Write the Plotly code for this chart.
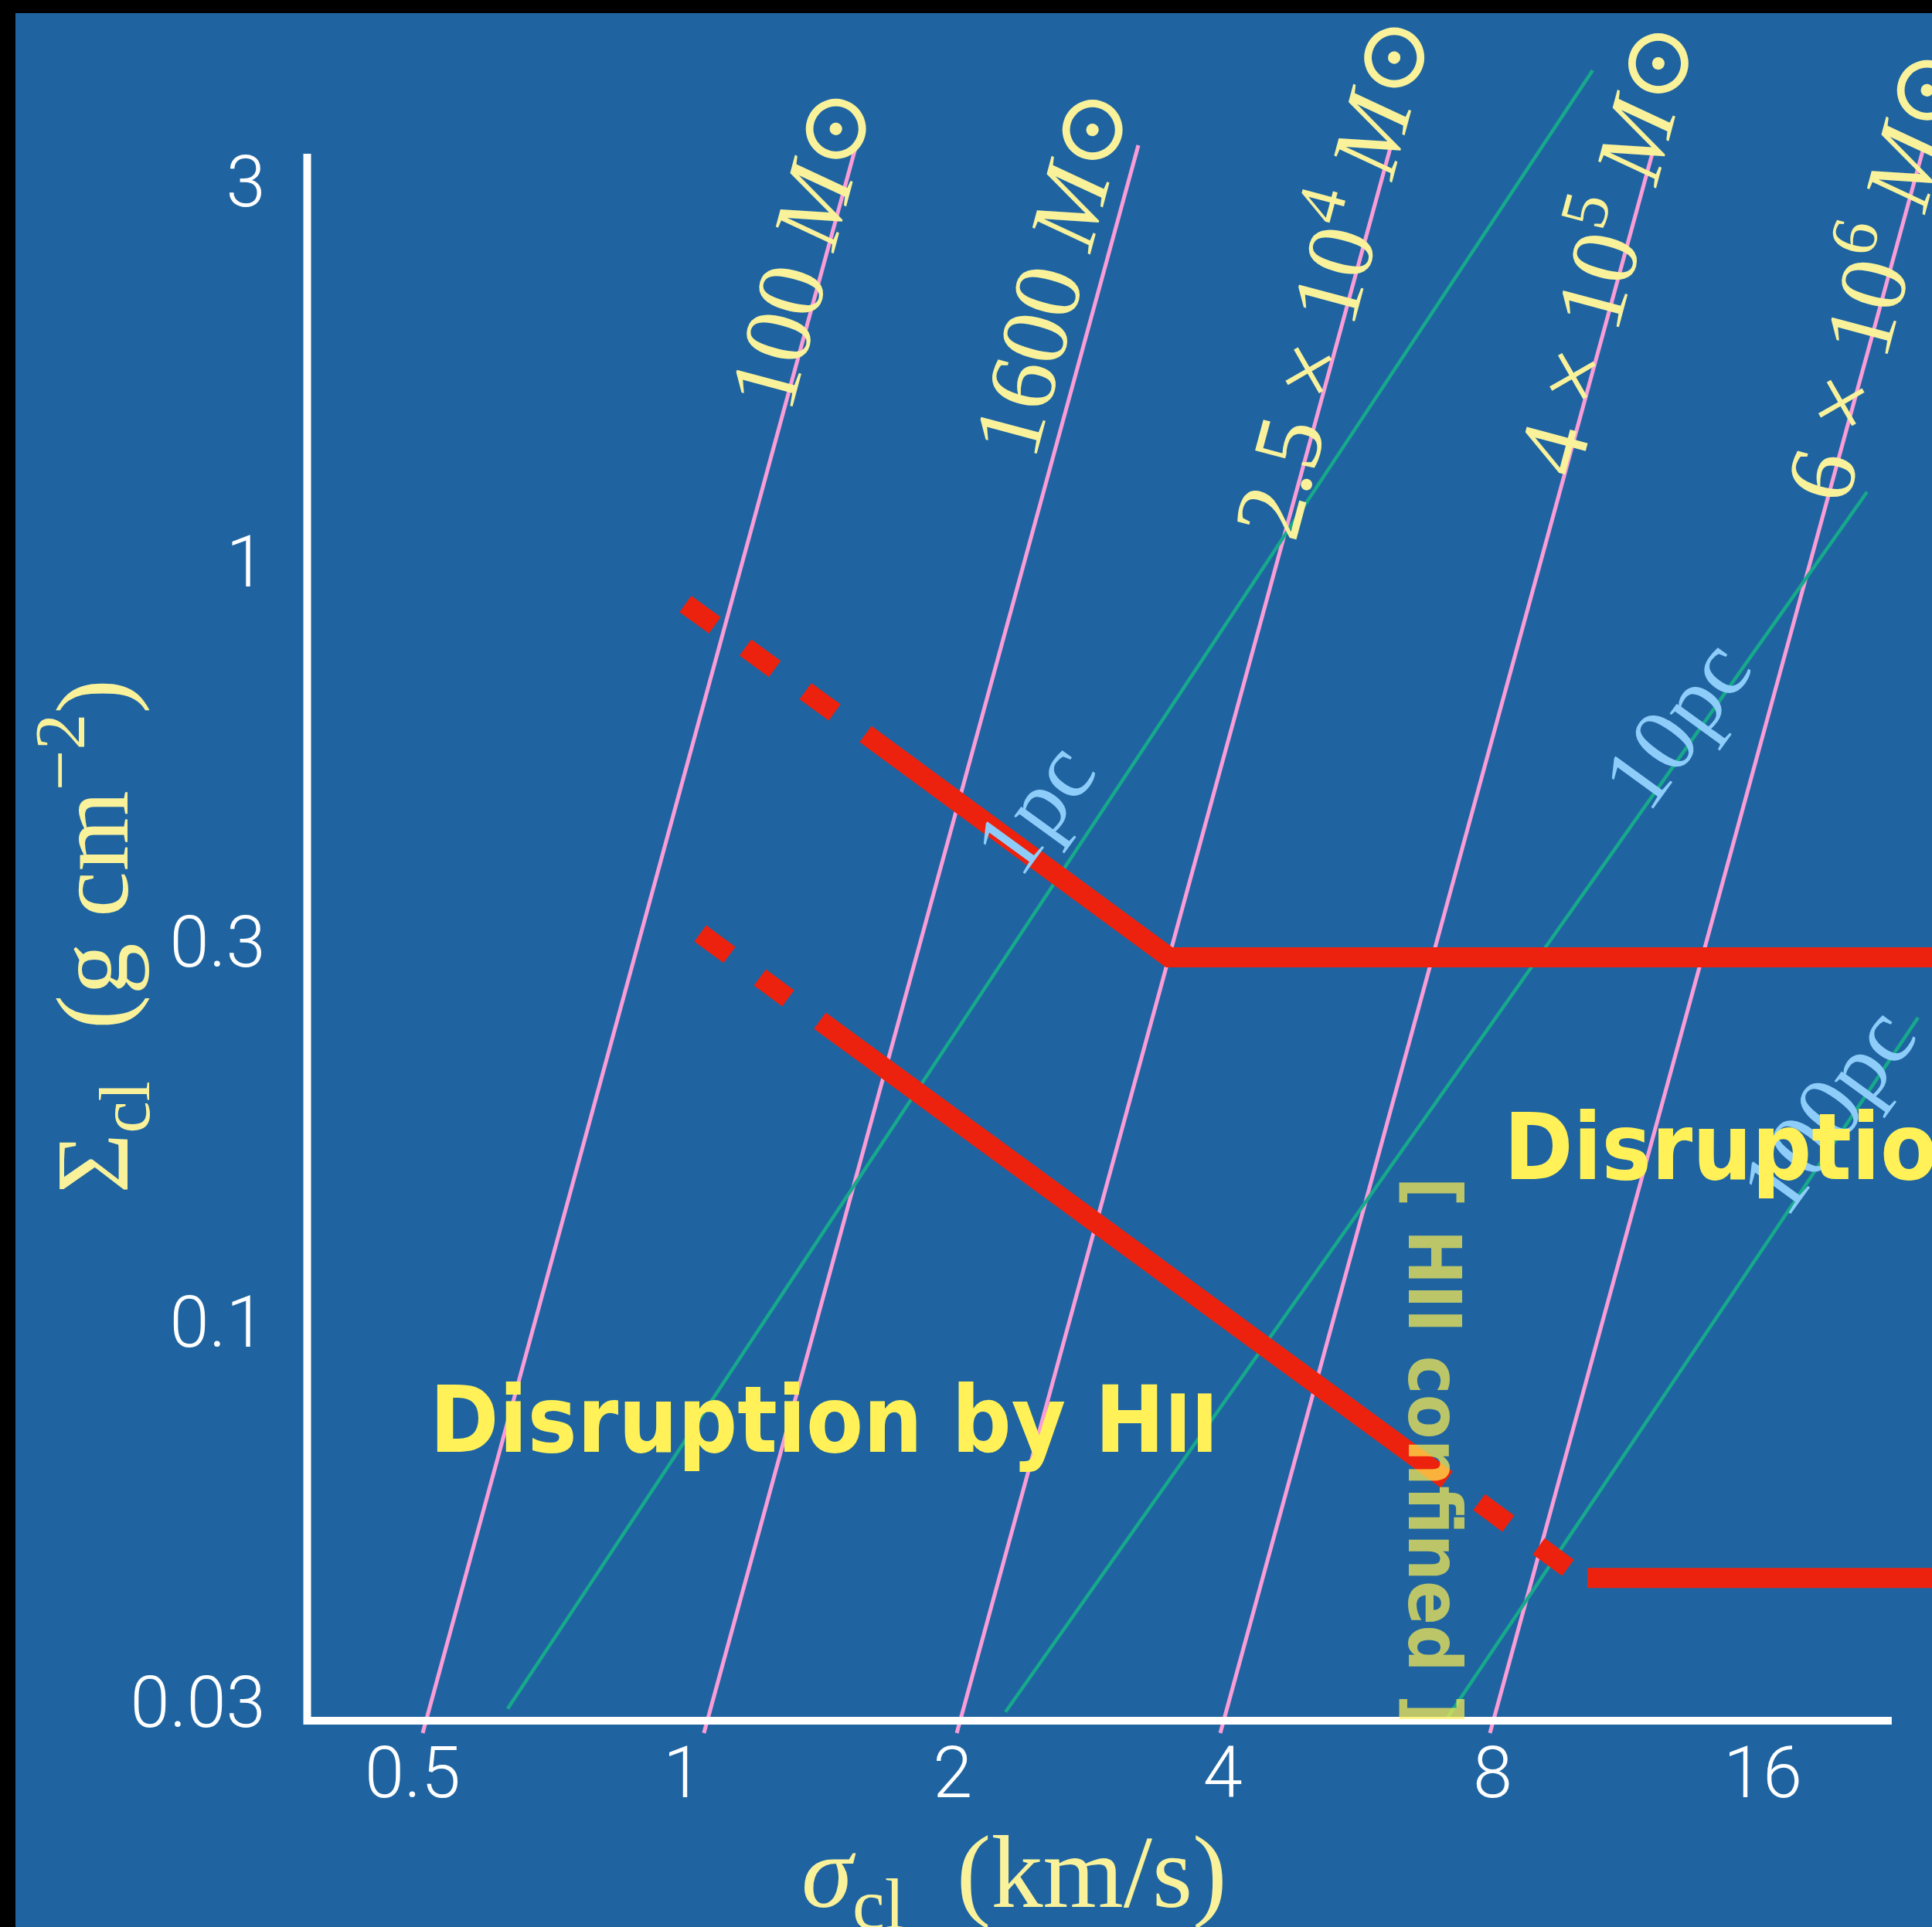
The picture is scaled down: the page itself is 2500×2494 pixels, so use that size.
import numpy as np
import plotly.graph_objects as go

# ---------------- data (sigma in km/s, Sigma in g cm^-2) ----------------
X_RANGE_LOG = [-0.7611, 1.3928]
Y_RANGE_LOG = [-1.7957, 0.7388]

SIGMA_TICKS = [0.5, 1, 2, 4, 8, 16]
SIGMA_TICK_TEXT = ["0.5", "1", "2", "4", "8", "16"]
SURF_TICKS = [3.162, 1.0, 0.3162, 0.1, 0.03162]
SURF_TICK_TEXT = ["3", "1", "0.3", "0.1", "0.03"]

# axis frame
SPINE_SIGMA_LEFT = 0.3814
SPINE_SIGMA_RIGHT = 22.28
SPINE_SURF_BOTTOM = 0.02989
SPINE_SURF_TOP = 3.441

# constant-mass lines
MASS_TEXT = ["100 <i>M</i>⊙", "1600 <i>M</i>⊙", "2.5 × 10<sup>4</sup> <i>M</i>⊙",
             "4 × 10<sup>5</sup> <i>M</i>⊙", "6 × 10<sup>6</sup> <i>M</i>⊙"]
MASS_SIGMA_BOTTOM = [0.513, 1.056, 2.021, 3.975, 7.943]
MASS_SIGMA_TOP = [1.561, 3.221, 6.162, 12.12, 24.22]
MASS_SURF_BOTTOM = [0.0288, 0.0288, 0.0288, 0.0288, 0.0288]
MASS_SURF_TOP = [3.53, 3.53, 3.53, 3.53, 3.53]
MASS_LABEL_SIGMA = [1.359, 2.585, 5.217, 10.53, 20.99]
MASS_LABEL_SURF = [2.586, 2.405, 2.383, 2.604, 2.399]

# constant-radius lines
RADIUS_TEXT = ["1pc", "10pc", "100pc"]
RADIUS_SIGMA_BOTTOM = [0.638, 2.290, 7.066]
RADIUS_SURF_BOTTOM = [0.0310, 0.0307, 0.02975]
RADIUS_SIGMA_TOP = [10.34, 20.91, 23.84]
RADIUS_SURF_TOP = [4.43, 1.235, 0.2514]
RADIUS_LABEL_SIGMA = [2.464, 12.79, 18.90]
RADIUS_LABEL_SURF = [0.4750, 0.6117, 0.1899]

# disruption boundaries
UPPER_DASH_SIGMA = [1.007, 1.477]
UPPER_DASH_SURF = [0.880, 0.6335]
UPPER_SOLID_SIGMA = [1.599, 3.486, 30.0]
UPPER_SOLID_SURF = [0.5934, 0.3018, 0.3018]
LOWER_DASH1_SIGMA = [1.046, 1.311]
LOWER_DASH1_SURF = [0.3245, 0.2666]
LOWER_SOLID_SIGMA = [1.422, 7.108]
LOWER_SOLID_SURF = [0.2491, 0.06205]
LOWER_DASH2_SIGMA = [7.725, 9.704]
LOWER_DASH2_SURF = [0.05796, 0.04750]
LOWER_FLAT_SIGMA = [10.20, 30.0]
LOWER_FLAT_SURF = [0.04608, 0.04608]

# region labels (position of text centre / left edge)
HII_LABEL_SIGMA, HII_LABEL_SURF = 1.4365, 0.0743
RIGHT_LABEL_SIGMA, RIGHT_LABEL_SURF = 8.20, 0.1701
CONF_LABEL_SIGMA, CONF_LABEL_SURF = 6.88, 0.06767

# ---------------- styles ----------------
BG = "#1F64A1"
PINK = "#FA9DD6"
GREEN = "#17A98B"
RED = "#EC220E"
PALE_YELLOW = "#F9F29B"
YELLOW = "#FFF157"
LIGHT_BLUE = "#8ECDFA"
SERIF = "Liberation Serif, DejaVu Serif, serif"
BOLD_NARROW = "DejaVu Sans Condensed, Liberation Sans Narrow, sans-serif"
TICK_FONT = dict(family="Roboto, Lato, sans-serif", size=92, color="white", weight=300)

fig = go.Figure()


def add_line(xs, ys, color, width, dash="solid"):
    fig.add_trace(go.Scatter(x=xs, y=ys, mode="lines", hoverinfo="skip",
                             line=dict(color=color, width=width, dash=dash),
                             showlegend=False))


for xb, xt, yb, yt in zip(MASS_SIGMA_BOTTOM, MASS_SIGMA_TOP, MASS_SURF_BOTTOM, MASS_SURF_TOP):
    add_line([xb, xt], [yb, yt], PINK, 5)
for xb, xt, yb, yt in zip(RADIUS_SIGMA_BOTTOM, RADIUS_SIGMA_TOP, RADIUS_SURF_BOTTOM, RADIUS_SURF_TOP):
    add_line([xb, xt], [yb, yt], GREEN, 4.5)

# frame
add_line([SPINE_SIGMA_LEFT, SPINE_SIGMA_LEFT, SPINE_SIGMA_RIGHT],
         [SPINE_SURF_TOP, SPINE_SURF_BOTTOM, SPINE_SURF_BOTTOM], "white", 10)

RED_W = 26
DASH = "47px,49px"
add_line(UPPER_DASH_SIGMA, UPPER_DASH_SURF, RED, RED_W, DASH)
add_line(UPPER_SOLID_SIGMA, UPPER_SOLID_SURF, RED, RED_W)
add_line(LOWER_DASH1_SIGMA, LOWER_DASH1_SURF, RED, RED_W, DASH)
add_line(LOWER_SOLID_SIGMA, LOWER_SOLID_SURF, RED, RED_W)
add_line(LOWER_DASH2_SIGMA, LOWER_DASH2_SURF, RED, RED_W, DASH)
add_line(LOWER_FLAT_SIGMA, LOWER_FLAT_SURF, RED, RED_W)

ann = []
for t, xs, ys in zip(MASS_TEXT, MASS_LABEL_SIGMA, MASS_LABEL_SURF):
    ann.append(dict(x=np.log10(xs), y=np.log10(ys), xref="x", yref="y", text=t,
                    showarrow=False, textangle=-75, xanchor="center", yanchor="middle",
                    font=dict(family=SERIF, size=124, color=PALE_YELLOW)))
for t, xs, ys in zip(RADIUS_TEXT, RADIUS_LABEL_SIGMA, RADIUS_LABEL_SURF):
    ann.append(dict(x=np.log10(xs), y=np.log10(ys), xref="x", yref="y", text=t,
                    showarrow=False, textangle=-54, xanchor="center", yanchor="middle",
                    font=dict(family=SERIF, size=120, color=LIGHT_BLUE)))

ann.append(dict(x=np.log10(HII_LABEL_SIGMA), y=np.log10(HII_LABEL_SURF), xref="x", yref="y",
                text="Disruption by H<span style='font-size:86%'>II</span>", showarrow=False,
                xanchor="center", yanchor="middle",
                font=dict(family=BOLD_NARROW, size=120, color=YELLOW, weight="bold")))
ann.append(dict(x=np.log10(RIGHT_LABEL_SIGMA), y=np.log10(RIGHT_LABEL_SURF), xref="x", yref="y",
                text="Disruption", showarrow=False, xanchor="left", yanchor="middle",
                font=dict(family=BOLD_NARROW, size=120, color=YELLOW, weight="bold")))
ann.append(dict(x=np.log10(CONF_LABEL_SIGMA), y=np.log10(CONF_LABEL_SURF), xref="x", yref="y",
                text="[ HII confined ]", showarrow=False, textangle=90,
                xanchor="center", yanchor="middle",
                font=dict(family=BOLD_NARROW, size=94, color="rgba(255,240,80,0.7)", weight="bold")))

# axis titles
ann.append(dict(x=0.5248, y=0.0245, xref="paper", yref="paper",
                text="<i>σ</i><sub>cl</sub>\u00a0 (km/s)", showarrow=False,
                xanchor="center", yanchor="middle",
                font=dict(family=SERIF, size=134, color=PALE_YELLOW)))
ann.append(dict(x=0.0475, y=0.5140, xref="paper", yref="paper",
                text="Σ<sub>cl</sub>\u00a0 (g cm<sup>−2</sup>)", showarrow=False, textangle=-90,
                xanchor="center", yanchor="middle",
                font=dict(family=SERIF, size=134, color=PALE_YELLOW)))

shapes = [
    dict(type="rect", xref="paper", yref="paper", x0=0, x1=1, y0=1 - 17 / 2494, y1=1,
         fillcolor="black", line=dict(width=0), layer="above"),
    dict(type="rect", xref="paper", yref="paper", x0=0, x1=20 / 2500, y0=0, y1=1,
         fillcolor="black", line=dict(width=0), layer="above"),
]

fig.update_layout(
    width=2500, height=2494,
    margin=dict(l=0, r=0, t=0, b=0, pad=0),
    paper_bgcolor=BG, plot_bgcolor=BG,
    annotations=ann, shapes=shapes,
    xaxis=dict(type="log", range=X_RANGE_LOG, domain=[0, 1], anchor="free", position=267 / 2494,
               tickvals=SIGMA_TICKS, ticktext=SIGMA_TICK_TEXT, ticks="", showgrid=False,
               zeroline=False, showline=False, ticklabelstandoff=6, tickfont=TICK_FONT),
    yaxis=dict(type="log", range=Y_RANGE_LOG, domain=[0, 1], anchor="free", position=397.5 / 2500,
               tickvals=SURF_TICKS, ticktext=SURF_TICK_TEXT, ticks="", showgrid=False,
               zeroline=False, showline=False, ticklabelstandoff=54, tickfont=TICK_FONT),
)

fig.write_html("out.html", config={"displayModeBar": False},
               post_script="document.body.style.margin='0';document.body.style.overflow='hidden';"
                           "document.documentElement.style.overflow='hidden';")
